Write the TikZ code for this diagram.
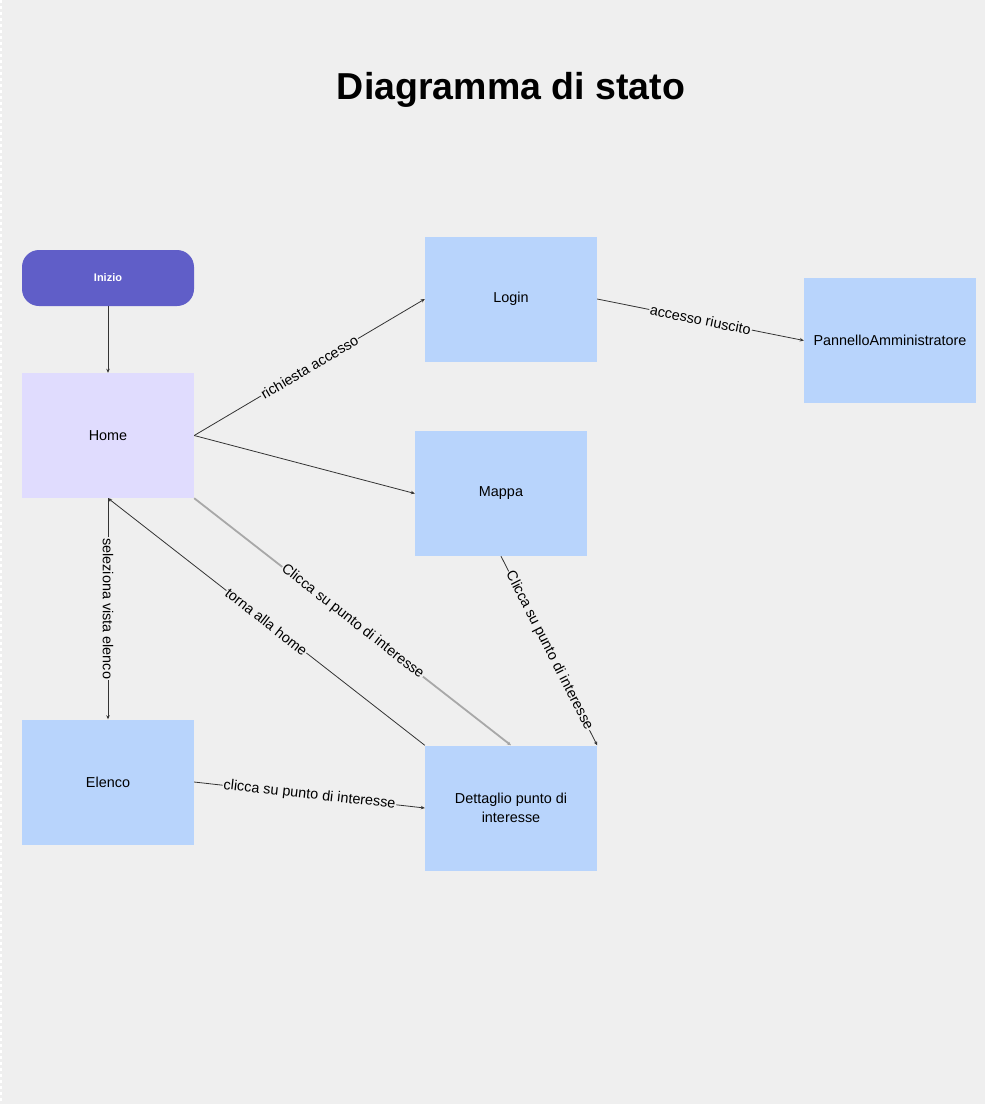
\documentclass[tikz,border=0pt]{standalone}
\usepackage{fontspec}
\setmainfont{Liberation Sans}
\usetikzlibrary{arrows.meta}
\definecolor{bg}{HTML}{EFEFEF}
\definecolor{startc}{HTML}{605EC8}
\definecolor{lav}{HTML}{E0DCFE}
\definecolor{bluec}{HTML}{B8D4FC}
\definecolor{linec}{HTML}{333333}
\definecolor{lightline}{HTML}{A8A8A8}
\begin{document}
\begin{tikzpicture}[x=1pt,y=-1pt,
  statebox/.style={minimum width=172pt, minimum height=125pt, inner sep=0pt, font=\fontsize{14.4}{19}\selectfont, text=black, align=center},
  conn/.style={draw=linec, line width=0.8pt, -{Stealth[length=4pt,width=3.5pt,fill=linec]}},
  lbl/.style={sloped, fill=bg, inner sep=1pt, text=black, font=\fontsize{14.4}{17}\selectfont}]
\useasboundingbox (0,0) rectangle (985,1104);
\fill[bg] (0,0) rectangle (985,1104);
\draw[white, dashed, line width=1.5pt] (1,0) -- (1,1104);
\node[font=\bfseries\fontsize{37.5}{42}\selectfont] (title) at (511,90) {Diagramma di stato};
\node[fill=startc, rounded corners=17pt, minimum width=172pt, minimum height=56pt, inner sep=0pt, text=white, font=\bfseries\fontsize{11}{13}\selectfont] (inizio) at (108,278) {Inizio};
\node[statebox, fill=lav] (home) at (108,435.5) {Home};
\node[statebox, fill=bluec] (login) at (511,299) {Login};
\node[statebox, fill=bluec] (pannello) at (890,340.5) {PannelloAmministratore};
\node[statebox, fill=bluec] (mappa) at (501,493.5) {Mappa};
\node[statebox, fill=bluec] (elenco) at (108,782) {Elenco};
\node[statebox, fill=bluec] (dett) at (511,808) {Dettaglio punto di\\interesse};
\draw[conn] (inizio.south) -- (home.north);
\draw[conn] (home.east) -- node[lbl]{richiesta accesso} (login.west);
\draw[conn] (home.east) -- (mappa.west);
\draw[conn] (login.east) -- node[lbl]{accesso riuscito} (pannello.west);
\draw[conn] (home.south) -- node[lbl]{seleziona vista elenco} (elenco.north);
\draw[conn] (dett.north west) -- node[lbl]{torna alla home} (home.south);
\draw[conn, draw=lightline, line width=1.8pt] (home.south east) -- node[lbl]{Clicca su punto di interesse} (dett.north);
\draw[conn] (mappa.south) -- node[lbl]{Clicca su punto di interesse} (dett.north east);
\draw[conn] (elenco.east) -- node[lbl]{clicca su punto di interesse} (dett.west);
\end{tikzpicture}
\end{document}
